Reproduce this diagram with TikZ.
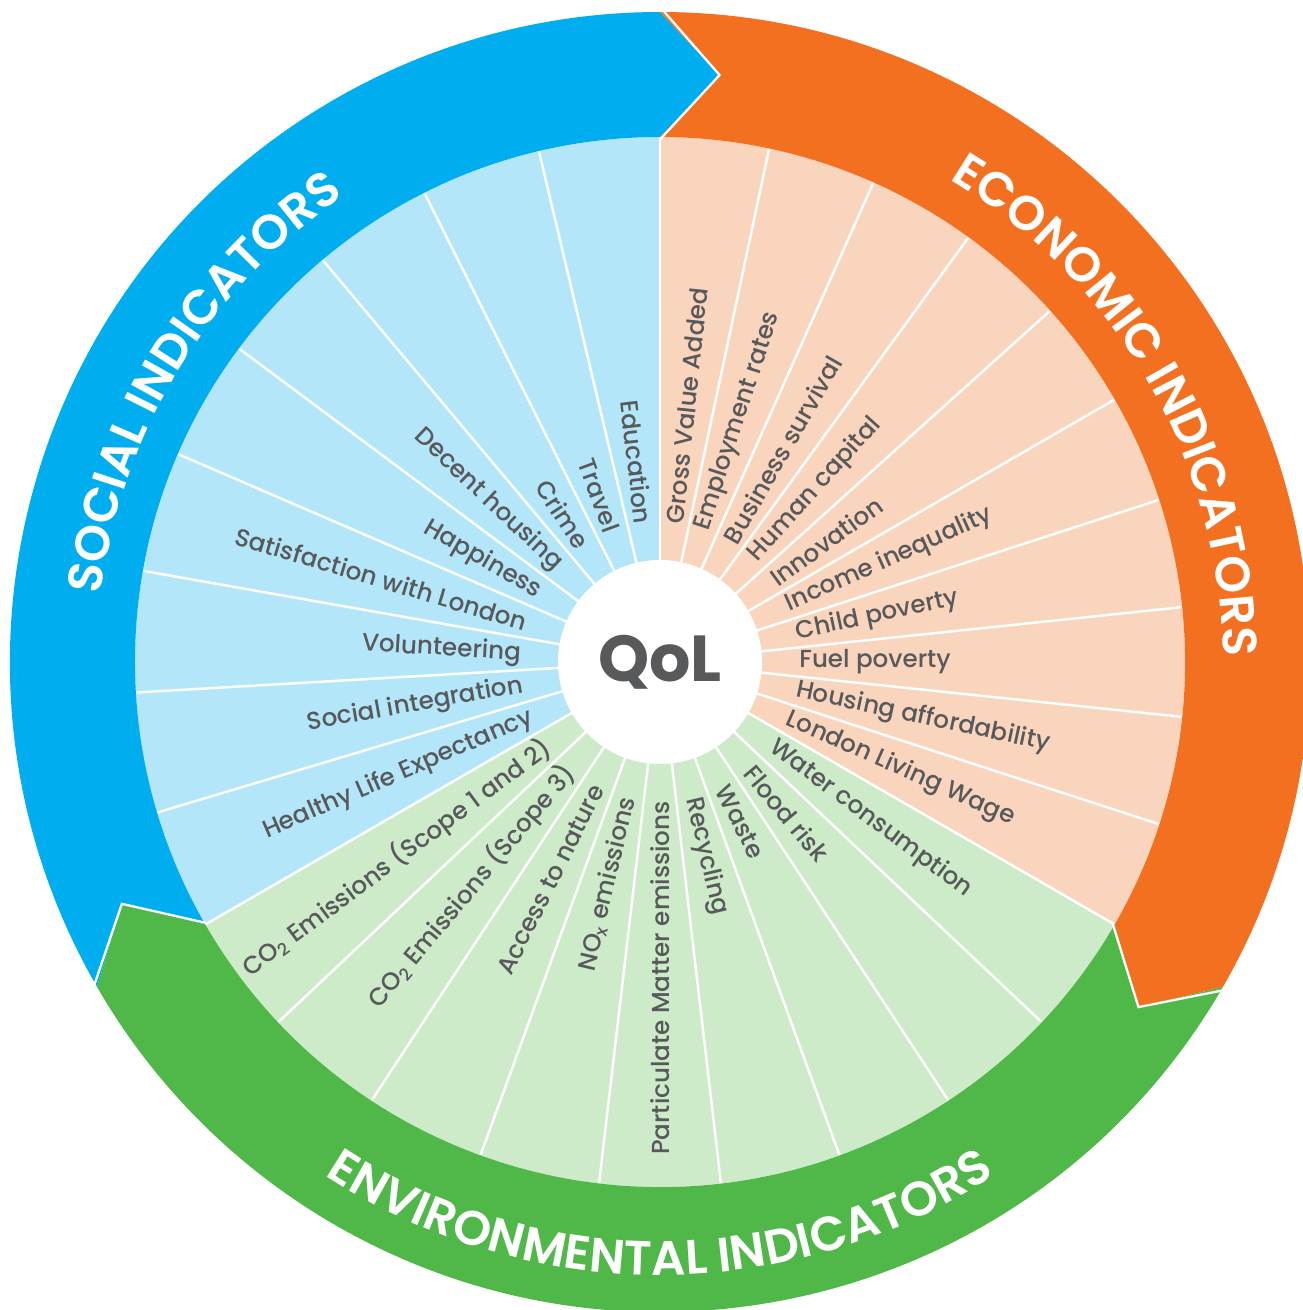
\documentclass[tikz,border=0pt]{standalone}
\usepackage{fontspec}
\setmainfont{Poppins}
\newfontfamily\labfam{Poppins Medium}
\newfontfamily\bandfam{Poppins SemiBold}
\usetikzlibrary{decorations.text}
\definecolor{socband}{HTML}{00AEEF}
\definecolor{socfill}{HTML}{B3E6F9}
\definecolor{ecoband}{HTML}{F37021}
\definecolor{ecofill}{HTML}{F9D5BD}
\definecolor{envband}{HTML}{50B848}
\definecolor{envfill}{HTML}{CDEAC9}
\definecolor{labgray}{HTML}{58595B}
\newcommand{\labfont}{\labfam\fontsize{14}{16}\selectfont}
\newcommand{\bandfont}{\bandfam\fontsize{27.5}{30}\selectfont}
\newcommand{\qolfont}{\fontsize{37}{42}\selectfont\bfseries}

\begin{document}
\begin{tikzpicture}[
  rlab/.style={font=\labfont, text=labgray, anchor=west, inner sep=0pt},
  llab/.style={font=\labfont, text=labgray, anchor=east, inner sep=0pt},
  spoke/.style={white, line width=1.4pt},
  seam/.style={white, line width=1.3pt, line join=miter},
  bandtext/.style={decorate, decoration={text along path, text color=white, text align=center, text={#1}}}
]
\useasboundingbox (-13.200,-12.960) rectangle (12.860,13.240);

\fill[socfill] (0,0) -- (210:10.500) arc[start angle=210, end angle=90, radius=10.500] -- cycle;
\fill[ecofill] (0,0) -- (90:10.500) arc[start angle=90, end angle=-30, radius=10.500] -- cycle;
\fill[envfill] (0,0) -- (-30:10.500) arc[start angle=-30, end angle=-150, radius=10.500] -- cycle;

\draw[spoke] (0,0) -- (90.000:10.500);
\draw[spoke] (0,0) -- (78.000:10.500);
\draw[spoke] (0,0) -- (66.000:10.500);
\draw[spoke] (0,0) -- (54.000:10.500);
\draw[spoke] (0,0) -- (42.000:10.500);
\draw[spoke] (0,0) -- (30.000:10.500);
\draw[spoke] (0,0) -- (18.000:10.500);
\draw[spoke] (0,0) -- (6.000:10.500);
\draw[spoke] (0,0) -- (-6.000:10.500);
\draw[spoke] (0,0) -- (-18.000:10.500);
\draw[spoke] (0,0) -- (-30.000:10.500);
\draw[spoke] (0,0) -- (-43.333:10.500);
\draw[spoke] (0,0) -- (-56.667:10.500);
\draw[spoke] (0,0) -- (-70.000:10.500);
\draw[spoke] (0,0) -- (-83.333:10.500);
\draw[spoke] (0,0) -- (-96.667:10.500);
\draw[spoke] (0,0) -- (-110.000:10.500);
\draw[spoke] (0,0) -- (-123.333:10.500);
\draw[spoke] (0,0) -- (-136.667:10.500);
\draw[spoke] (0,0) -- (-150.000:10.500);
\draw[spoke] (0,0) -- (196.667:10.500);
\draw[spoke] (0,0) -- (183.333:10.500);
\draw[spoke] (0,0) -- (170.000:10.500);
\draw[spoke] (0,0) -- (156.667:10.500);
\draw[spoke] (0,0) -- (143.333:10.500);
\draw[spoke] (0,0) -- (130.000:10.500);
\draw[spoke] (0,0) -- (116.667:10.500);
\draw[spoke] (0,0) -- (103.333:10.500);

\fill[socband] (210:10.500) -- (204.200:11.800) -- (210:13.000) arc[start angle=210, end angle=90, radius=13.000] -- (84.200:11.800) -- (90:10.500) arc[start angle=90, end angle=210, radius=10.500] -- cycle;
\fill[ecoband] (90:10.500) -- (84.200:11.800) -- (90:13.000) arc[start angle=90, end angle=-30, radius=13.000] -- (-35.800:11.800) -- (-30:10.500) arc[start angle=-30, end angle=90, radius=10.500] -- cycle;
\fill[envband] (-30:10.500) -- (-35.800:11.800) -- (-30:13.000) arc[start angle=-30, end angle=-150, radius=13.000] -- (-155.800:11.800) -- (-150:10.500) arc[start angle=-150, end angle=-30, radius=10.500] -- cycle;
\draw[seam] (90:10.450) -- (84.200:11.800) -- (90:13.100);
\draw[seam] (-30:10.450) -- (-35.800:11.800) -- (-30:13.100);
\draw[seam] (210:10.450) -- (204.200:11.800) -- (210:13.100);

\path[bandtext={|\bandfont|SOCIAL INDICATORS}] (200:11.260) arc[start angle=200, end angle=97.200, radius=11.260];
\path[bandtext={|\bandfont|ECONOMIC INDICATORS}] (82:11.260) arc[start angle=82, end angle=-22.400, radius=11.260];
\path[bandtext={|\bandfont|ENVIRONMENTAL INDICATORS}] (-142:12.260) arc[start angle=-142, end angle=-38, radius=12.260];

\node[circle, fill=white, minimum size=4.080cm, inner sep=0pt, font=\qolfont, text=labgray] (qol) at (0,0) {QoL};

\node[rlab, rotate=84.000] (gva) at (84.000:2.780) {Gross Value Added};
\node[rlab, rotate=72.000] (emp) at (72.000:2.780) {Employment rates};
\node[rlab, rotate=60.000] (bus) at (60.000:2.780) {Business survival};
\node[rlab, rotate=48.000] (hum) at (48.000:2.780) {Human capital};
\node[rlab, rotate=36.000] (inn) at (36.000:2.780) {Innovation};
\node[rlab, rotate=24.000] (inc) at (24.000:2.780) {Income inequality};
\node[rlab, rotate=12.000] (chi) at (12.000:2.780) {Child poverty};
\node[rlab, rotate=0.000] (fue) at (0.000:2.780) {Fuel poverty};
\node[rlab, rotate=-12.000] (hou) at (-12.000:2.780) {Housing affordability};
\node[rlab, rotate=-24.000] (llw) at (-24.000:2.780) {London Living Wage};

\node[rlab, rotate=-36.667] (wat) at (-36.667:2.780) {Water consumption};
\node[rlab, rotate=-50.000] (flo) at (-50.000:2.780) {Flood risk};
\node[rlab, rotate=-63.333] (was) at (-63.333:2.780) {Waste};
\node[rlab, rotate=-76.667] (rec) at (-76.667:2.780) {Recycling};
\node[llab, rotate=90.000] (pm) at (-90.000:2.780) {Particulate Matter emissions};
\node[llab, rotate=76.667] (nox) at (-103.333:2.780) {NO\textsubscript{x} emissions};
\node[llab, rotate=63.333] (acc) at (-116.667:2.780) {Access to nature};
\node[llab, rotate=50.000] (cothree) at (-130.000:2.780) {CO\textsubscript{2} Emissions (Scope 3)};
\node[llab, rotate=36.667] (coone) at (-143.333:2.780) {CO\textsubscript{2} Emissions (Scope 1 and 2)};

\node[llab, rotate=23.333] (hle) at (203.333:2.780) {Healthy Life Expectancy};
\node[llab, rotate=10.000] (soc) at (190.000:2.780) {Social integration};
\node[llab, rotate=-3.333] (vol) at (176.667:2.780) {Volunteering};
\node[llab, rotate=-16.667] (sat) at (163.333:2.780) {Satisfaction with London};
\node[llab, rotate=-30.000] (hap) at (150.000:2.780) {Happiness};
\node[llab, rotate=-43.333] (dec) at (136.667:2.780) {Decent housing};
\node[llab, rotate=-56.667] (cri) at (123.333:2.780) {Crime};
\node[llab, rotate=-70.000] (tra) at (110.000:2.780) {Travel};
\node[llab, rotate=-83.333] (edu) at (96.667:2.780) {Education};
\end{tikzpicture}
\end{document}
